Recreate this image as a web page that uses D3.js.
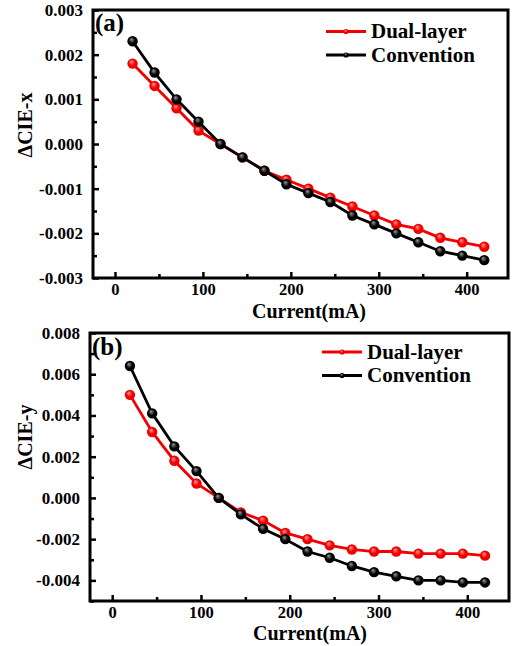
<!DOCTYPE html>
<html>
<head>
<meta charset="utf-8">
<script src="https://cdn.jsdelivr.net/npm/d3@7.9.0/dist/d3.min.js"></script>
<style>
  html, body { margin: 0; padding: 0; background: #fff; }
  svg { display: block; }
</style>
</head>
<body>
<svg id="chart" width="515" height="646"></svg>
<script>
// ============= DATA ==================

const current = [20, 45, 70, 95, 120, 145, 170, 195, 220, 245, 270, 295, 320, 345, 370, 395, 420];

// panel (a): delta CIE-x
const dualX = [0.0018, 0.0013, 0.0008, 0.0003, 0.0000, -0.0003, -0.0006, -0.0008, -0.0010,
  -0.0012, -0.0014, -0.0016, -0.0018, -0.0019, -0.0021, -0.0022, -0.0023];
const convX = [0.0023, 0.0016, 0.0010, 0.0005, 0.0000, -0.0003, -0.0006, -0.0009, -0.0011,
  -0.0013, -0.0016, -0.0018, -0.0020, -0.0022, -0.0024, -0.0025, -0.0026];

// panel (b): delta CIE-y
const dualY = [0.0050, 0.0032, 0.0018, 0.0007, 0.0000, -0.0007, -0.0011, -0.0017, -0.0020,
  -0.0023, -0.0025, -0.0026, -0.0026, -0.0027, -0.0027, -0.0027, -0.0028];
const convY = [0.0064, 0.0041, 0.0025, 0.0013, 0.0000, -0.0008, -0.0015, -0.0020, -0.0026,
  -0.0029, -0.0033, -0.0036, -0.0038, -0.0040, -0.0040, -0.0041, -0.0041];

const seriesNames = ["Dual-layer", "Convention"];
const xTicks = [0, 100, 200, 300, 400];
const xMinor = [50, 150, 250, 350];
const yTicksA = [-0.003, -0.002, -0.001, 0, 0.001, 0.002, 0.003];
const yMinorA = [-0.0025, -0.0015, -0.0005, 0.0005, 0.0015, 0.0025];
const yTicksB = [-0.004, -0.002, 0, 0.002, 0.004, 0.006, 0.008];
const yMinorB = [-0.005, -0.003, -0.001, 0.001, 0.003, 0.005, 0.007];

// ============= SETUP ==================

const FONT = "Liberation Serif";
const svg = d3.select("#chart");
const defs = svg.append("defs");

// shiny ball markers
function ball(id, light, base) {
  const g = defs.append("radialGradient").attr("id", id)
    .attr("cx", "50%").attr("cy", "50%").attr("r", "55%")
    .attr("fx", "38%").attr("fy", "30%");
  g.append("stop").attr("offset", "0%").attr("stop-color", light);
  g.append("stop").attr("offset", "55%").attr("stop-color", base);
  g.append("stop").attr("offset", "100%").attr("stop-color", base);
}
ball("ballRed", "#ff9a9a", "#f20000");
ball("ballBlack", "#9a9a9a", "#000000");

const colors = { "Dual-layer": "#f20000", "Convention": "#000000" };
const fills = { "Dual-layer": "url(#ballRed)", "Convention": "url(#ballBlack)" };
const fmt = d => (Math.abs(d) < 1e-9 ? 0 : d).toFixed(3);

function label(sel) {
  return sel.attr("font-family", FONT).attr("font-weight", "bold").attr("fill", "#000");
}

function panel(opt) {
  const { left, right, top, bottom } = opt;
  const x = d3.scaleLinear().domain([-25, 447]).range([left, right]);
  const y = d3.scaleLinear().domain(opt.yDomain).range([bottom, top]);
  const g = svg.append("g");

  // axes with inward ticks
  g.append("g").attr("transform", `translate(0,${bottom})`)
    .call(d3.axisBottom(x).tickValues(xMinor).tickSize(-4).tickFormat(""));
  g.append("g").attr("transform", `translate(0,${bottom})`)
    .call(d3.axisBottom(x).tickValues(xTicks).tickSize(-6).tickPadding(5).tickFormat(d3.format("d")))
    .selectAll("text").call(label).attr("font-size", 16.5);
  g.append("g").attr("transform", `translate(${left},0)`)
    .call(d3.axisLeft(y).tickValues(opt.yMinor).tickSize(-4).tickFormat(""));
  g.append("g").attr("transform", `translate(${left},0)`)
    .call(d3.axisLeft(y).tickValues(opt.yTicks).tickSize(-6).tickPadding(10).tickFormat(fmt))
    .selectAll("text").call(label).attr("font-size", 17);
  g.selectAll(".domain").remove();
  g.selectAll(".tick line").attr("stroke", "#000").attr("stroke-width", 2.5);

  // frame
  g.append("rect")
    .attr("x", left).attr("y", top)
    .attr("width", right - left).attr("height", bottom - top)
    .attr("fill", "none").attr("stroke", "#000").attr("stroke-width", 3);

  // series
  const line = d3.line().x(d => x(d[0])).y(d => y(d[1]));
  opt.series.forEach(s => {
    const pts = current.map((c, i) => [c, s.values[i]]);
    g.append("path").datum(pts)
      .attr("d", line)
      .attr("fill", "none")
      .attr("stroke", colors[s.name])
      .attr("stroke-width", 2.8);
    g.selectAll(null).data(pts).join("circle")
      .attr("cx", d => x(d[0])).attr("cy", d => y(d[1]))
      .attr("r", 5.2)
      .attr("fill", fills[s.name]);
  });

  // labels
  g.append("text").call(label).attr("x", left + 2).attr("y", opt.tagY)
    .attr("font-size", 25).text(opt.tag);

  g.append("text").call(label)
    .attr("x", opt.xTitleX).attr("y", opt.xTitleY)
    .attr("text-anchor", "middle").attr("font-size", 20)
    .text("Current(mA)");

  g.append("text").call(label)
    .attr("transform", `translate(${opt.yTitleX},${opt.yTitleY}) rotate(-90)`)
    .attr("text-anchor", "middle").attr("font-size", 20)
    .text(opt.yTitle);

  // legend
  const lg = g.append("g").attr("transform", `translate(${opt.legX},${opt.legY})`);
  seriesNames.forEach((name, i) => {
    const row = lg.append("g").attr("transform", `translate(0,${i * 23.5})`);
    row.append("line").attr("x1", 0).attr("x2", 40).attr("y1", 0).attr("y2", 0)
      .attr("stroke", colors[name]).attr("stroke-width", 3);
    row.append("circle").attr("cx", 20).attr("cy", 0).attr("r", 2.6).attr("fill", fills[name]);
    row.append("text").call(label).attr("x", 45).attr("y", 6.5)
      .attr("font-size", 21).text(name);
  });
}

panel({
  left: 93, right: 508, top: 10, bottom: 278,
  yDomain: [-0.003, 0.003], yTicks: yTicksA, yMinor: yMinorA,
  series: [{ name: "Dual-layer", values: dualX }, { name: "Convention", values: convX }],
  tag: "(a)", tagY: 31,
  yTitle: "\u0394CIE-x", yTitleX: 32, yTitleY: 125,
  xTitleX: 309, xTitleY: 318,
  legX: 326, legY: 31.5
});

panel({
  left: 90, right: 509, top: 333, bottom: 601,
  yDomain: [-0.005, 0.008], yTicks: yTicksB, yMinor: yMinorB,
  series: [{ name: "Dual-layer", values: dualY }, { name: "Convention", values: convY }],
  tag: "(b)", tagY: 355,
  yTitle: "\u0394CIE-y", yTitleX: 32, yTitleY: 437,
  xTitleX: 310, xTitleY: 640,
  legX: 322, legY: 352
});
</script>
</body>
</html>
